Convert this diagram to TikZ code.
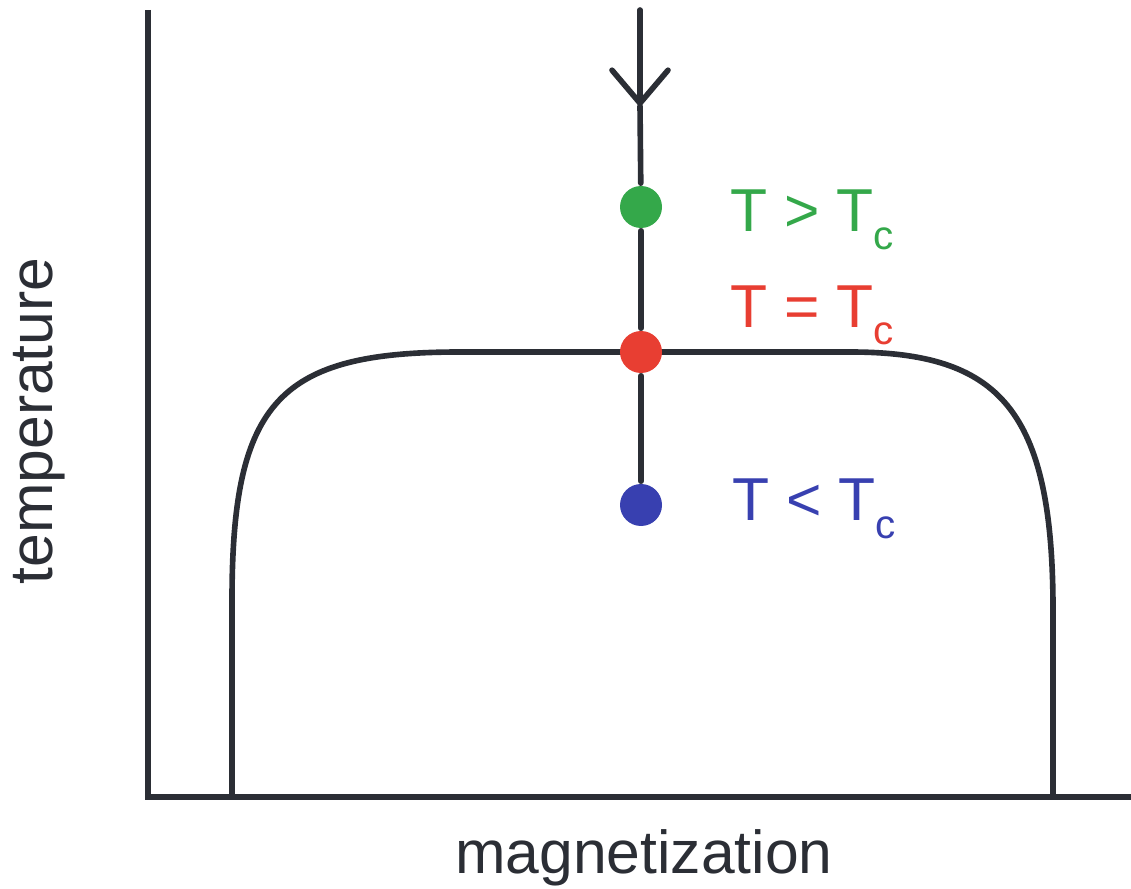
\documentclass[tikz,border=0pt]{standalone}
\usepackage{fontspec}
\setmainfont{Liberation Sans}
\usepackage{tikz}
\usetikzlibrary{arrows.meta}

\definecolor{inkline}{RGB}{43,46,53}
\definecolor{hotgreen}{RGB}{52,168,74}
\definecolor{critred}{RGB}{232,62,50}
\definecolor{coldblue}{RGB}{56,64,176}

\newcommand{\tsub}[1]{\raisebox{-0.36cm}{\fontsize{23}{23}\selectfont #1}}

\begin{document}
\begin{tikzpicture}[
    x=0.02cm, y=-0.02cm,
    line width=3.2pt, draw=inkline, line cap=round,
    dot/.style={circle, draw=none, minimum size=0.84cm, inner sep=0pt},
    lbl/.style={anchor=base west, inner sep=0pt, font=\fontsize{34.5}{40}\selectfont},
    axlbl/.style={anchor=base, inner sep=0pt, text=inkline, font=\fontsize{34.5}{40}\selectfont}
]
\useasboundingbox (0,0) rectangle (1131,888);

% axes
\coordinate (ytop) at (148,10);
\coordinate (orig) at (148,797);
\coordinate (xend) at (1131,797);
\draw[line cap=butt] (ytop) -- (orig) -- (xend);

% coexistence curve
\draw (232,797) -- (232,600) .. controls (232,400) and (280,352) .. (460,352)
      -- (850,352) .. controls (1000,352) and (1053,410) .. (1053,610) -- (1053,797);

% states
\node[dot, fill=hotgreen] (above) at (641,207) {};
\node[dot, fill=critred] (crit) at (641,352) {};
\node[dot, fill=coldblue] (below) at (641,505) {};

\coordinate (start) at (640,10);
\coordinate (arr) at (640,106);
\draw[-{Straight Barb[length=0.66cm, width=1.12cm, round]}] (start) -- (arr);
\draw (arr) -- (above);
\draw (above) -- (crit);
\draw (crit) -- (below);

\node[lbl, text=hotgreen] (lhot) at (728,232) {T > T\tsub{c}};
\node[lbl, text=critred] (lcrit) at (728,327) {T = T\tsub{c}};
\node[lbl, text=coldblue] (lcold) at (730,520) {T < T\tsub{c}};

\node[axlbl] (xlab) at (644,873) {magnetization};
\node[axlbl, rotate=90] (ylab) at (52,421) {temperature};
\end{tikzpicture}
\end{document}
